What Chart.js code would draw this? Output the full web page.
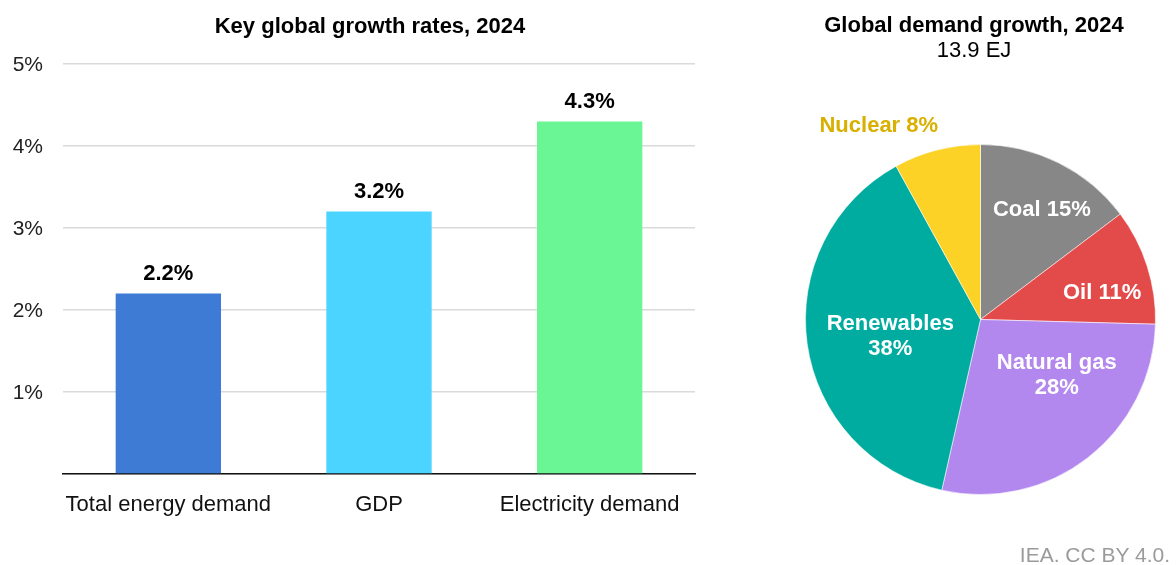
<!DOCTYPE html>
<html>
<head>
<meta charset="utf-8">
<script src="https://cdn.jsdelivr.net/npm/chart.js@4.4.1/dist/chart.umd.min.js"></script>
<style>
  html, body { margin: 0; padding: 0; background: #fff; width: 1176px; height: 565px; overflow: hidden; }
  #bar { position: absolute; left: 0; top: 0; }
  #pie { position: absolute; left: 740px; top: 0; }
  #credit { position: absolute; right: 6px; top: 544px; font: 21px "Liberation Sans", Arial, sans-serif; line-height: 1; color: #9b9b9b; white-space: nowrap; }
</style>
</head>
<body>
<canvas id="bar" width="740" height="565"></canvas>
<canvas id="pie" width="436" height="565"></canvas>
<div id="credit">IEA. CC BY 4.0.</div>
<script>
// ---- data ----
const barTitle = 'Key global growth rates, 2024';
const barCategories = ['Total energy demand', 'GDP', 'Electricity demand'];
const barValues = [2.2, 3.2, 4.3];
const barColors = ['#3E7BD4', '#4AD4FF', '#6BF696'];
const yMin = 0;
const yMax = 5;
const yStep = 1;

const pieTitle = 'Global demand growth, 2024';
const pieSubtitle = '13.9 EJ';
const pieCategories = ['Coal', 'Oil', 'Natural gas', 'Renewables', 'Nuclear'];
const pieValues = [14.7, 10.7, 28.1, 38.4, 8.0];          // shares
const pieShareLabels = ['15%', '11%', '28%', '38%', '8%']; // shares as printed
const pieColors = ['#878787', '#E34A4A', '#B388EE', '#00AC9F', '#FDD227'];

// ---- styling / layout ----
const FONT = '"Liberation Sans", Arial, sans-serif';
Chart.defaults.font.family = FONT;
Chart.defaults.color = '#222';

const headline = {
  id: 'headline',
  afterDraw(chart, args, opts) {
    const ctx = chart.ctx;
    ctx.save();
    ctx.textAlign = 'center';
    ctx.textBaseline = 'middle';
    ctx.fillStyle = '#000';
    opts.lines.forEach(l => {
      ctx.font = (l.bold ? 'bold ' : '') + l.size + 'px ' + FONT;
      ctx.fillText(l.text, opts.x, l.y);
    });
    ctx.restore();
  }
};

const barValueLabels = {
  id: 'barValueLabels',
  afterDatasetsDraw(chart) {
    const ctx = chart.ctx;
    const meta = chart.getDatasetMeta(0);
    ctx.save();
    ctx.font = 'bold 22px ' + FONT;
    ctx.fillStyle = '#000';
    ctx.textAlign = 'center';
    ctx.textBaseline = 'middle';
    meta.data.forEach((bar, i) => {
      ctx.fillText(barValues[i].toFixed(1) + '%', bar.x, bar.y - 19.5);
    });
    ctx.restore();
  }
};

new Chart(document.getElementById('bar'), {
  type: 'bar',
  data: {
    labels: barCategories,
    datasets: [{
      data: barValues,
      backgroundColor: barColors,
      borderWidth: 0,
      barPercentage: 0.5,
      categoryPercentage: 1.0
    }]
  },
  options: {
    responsive: false,
    animation: false,
    devicePixelRatio: 1,
    layout: { padding: { top: 64, right: 45, left: 0, bottom: 0 } },
    plugins: {
      legend: { display: false },
      tooltip: { enabled: false },
      headline: { x: 370, lines: [{ text: barTitle, y: 26.5, bold: true, size: 22 }] }
    },
    scales: {
      x: {
        grid: { display: false, drawTicks: false },
        border: { display: true, color: '#111', width: 1.5 },
        ticks: { font: { size: 22 }, color: '#111', padding: 18, maxRotation: 0, autoSkip: false },
        afterFit(scale) { scale.height = 91; }
      },
      y: {
        min: yMin,
        max: yMax,
        ticks: {
          stepSize: yStep,
          font: { size: 21 },
          color: '#222',
          padding: 20,
          labelOffset: 1.5,
          callback: v => (v === 0 ? '' : v + '%')
        },
        grid: { color: '#dadada', lineWidth: 1.5, drawTicks: false },
        border: { display: false },
        afterFit(scale) { scale.width = 63; }
      }
    }
  },
  plugins: [headline, barValueLabels]
});

// pie label placement: radial fraction of radius and angular shift (deg) from slice middle
const pieLabelPlacement = [
  { r: 0.723, shift: 2.5, wrap: false, color: '#fff' },
  { r: 0.712, shift: 5.2, wrap: false, color: '#fff' },
  { r: 0.538, shift: -16.2, wrap: true, color: '#fff' },
  { r: 0.523, shift: -1.7, wrap: true, color: '#fff' },
  { r: 1.254, shift: -13.2, wrap: false, color: '#D9B000' }
];

const pieLabels = {
  id: 'pieLabels',
  afterDatasetsDraw(chart) {
    const ctx = chart.ctx;
    const meta = chart.getDatasetMeta(0);
    ctx.save();
    ctx.font = 'bold 22px ' + FONT;
    ctx.textAlign = 'center';
    ctx.textBaseline = 'middle';
    meta.data.forEach((arc, i) => {
      const p = pieLabelPlacement[i];
      const mid = (arc.startAngle + arc.endAngle) / 2 + p.shift * Math.PI / 180;
      const cx = arc.x + Math.cos(mid) * arc.outerRadius * p.r;
      const cy = arc.y + Math.sin(mid) * arc.outerRadius * p.r + 1;
      const pct = pieShareLabels[i];
      const lines = p.wrap ? [pieCategories[i], pct] : [pieCategories[i] + ' ' + pct];
      const lh = 25;
      ctx.fillStyle = p.color;
      lines.forEach((t, k) => {
        ctx.fillText(t, cx, cy + (k - (lines.length - 1) / 2) * lh);
      });
    });
    ctx.restore();
  }
};

new Chart(document.getElementById('pie'), {
  type: 'pie',
  data: {
    labels: pieCategories,
    datasets: [{
      data: pieValues,
      backgroundColor: pieColors,
      borderColor: 'rgba(255,255,255,0.55)',
      borderWidth: 1
    }]
  },
  options: {
    responsive: false,
    animation: false,
    devicePixelRatio: 1,
    layout: { padding: { top: 144, bottom: 70, left: 65, right: 20 } },
    plugins: {
      legend: { display: false },
      tooltip: { enabled: false },
      headline: {
        x: 234,
        lines: [
          { text: pieTitle, y: 26, bold: true, size: 22 },
          { text: pieSubtitle, y: 51, bold: false, size: 22 }
        ]
      }
    }
  },
  plugins: [headline, pieLabels]
});
</script>
</body>
</html>
